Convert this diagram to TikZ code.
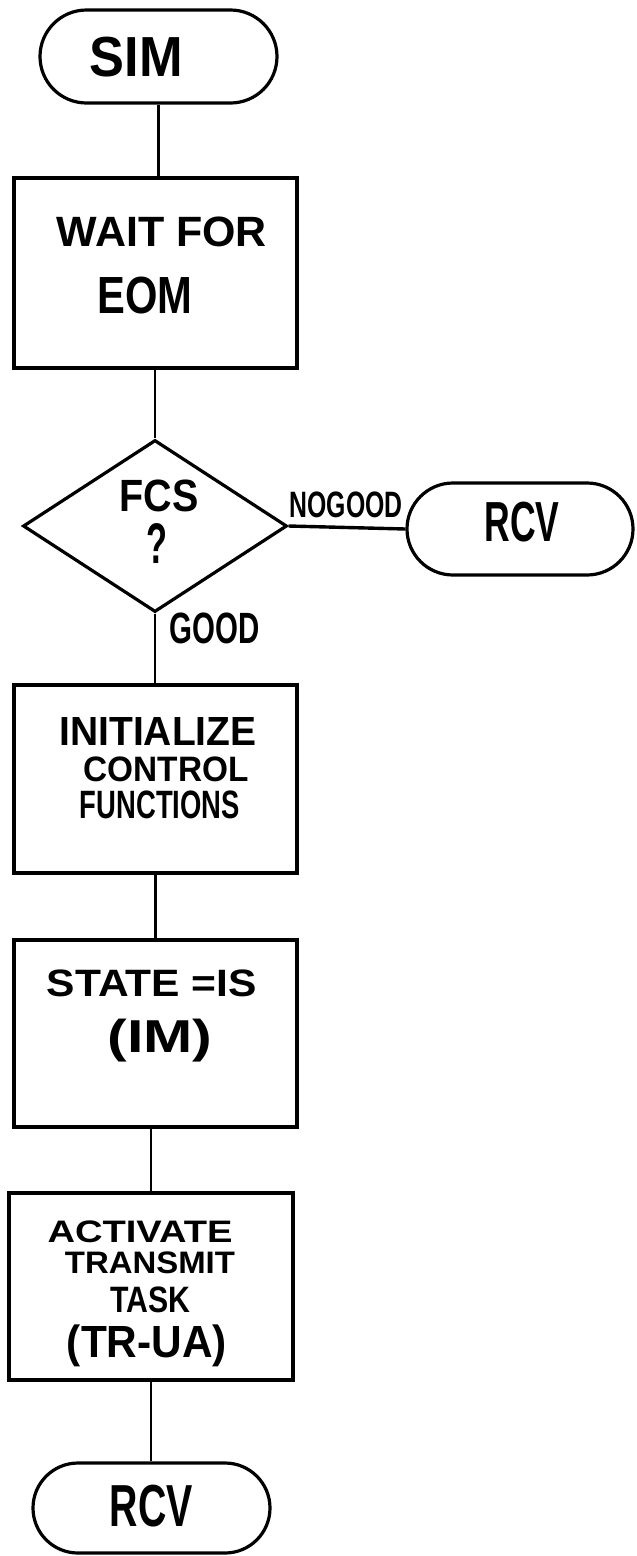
\documentclass[tikz,border=0pt]{standalone}
\usepackage{fontspec}
\usepackage{graphicx}
\setmainfont{Liberation Sans}
\usetikzlibrary{shapes.geometric}
\newcommand\hwtext[3]{\resizebox*{#1pt}{#2pt}{\bfseries #3}}
\tikzset{
  outline/.style={draw=black, line width=3.2pt},
  termbox/.style={outline, rectangle, rounded corners=#1, inner sep=0pt},
  procbox/.style={outline, rectangle, inner sep=0pt},
  decision/.style={outline, diamond, inner sep=0pt},
  conn/.style={draw=black, line width=2.6pt},
  txt/.style={inner sep=0pt, text=black, font=\fontsize{30}{32}\selectfont}
}
\begin{document}
\begin{tikzpicture}[x=1pt,y=-1pt]
\useasboundingbox (0,0) rectangle (637,1556);
\fill[white] (0,0) rectangle (637,1556);

% shapes
\node[termbox=46.5pt, minimum width=237pt, minimum height=93pt] (sim) at (158.5,56.5) {};
\node[procbox, minimum width=283pt, minimum height=190pt] (wait) at (155.5,273) {};
\node[decision, minimum width=264pt, minimum height=172pt] (fcs) at (155,526) {};
\node[termbox=46pt, minimum width=226pt, minimum height=92pt] (rcvA) at (520,529) {};
\node[procbox, minimum width=283pt, minimum height=188pt] (init) at (155.5,779) {};
\node[procbox, minimum width=283pt, minimum height=187pt] (state) at (155.5,1033.5) {};
\node[procbox, minimum width=284pt, minimum height=187pt] (act) at (151,1286.5) {};
\node[termbox=45pt, minimum width=237pt, minimum height=90pt] (rcvB) at (151.5,1508) {};

% texts
\node[txt] (simT) at (136.5,57) {\hwtext{93}{40}{SIM}};
\node[txt] (waitT1) at (162,232) {\hwtext{210}{30}{WAIT FOR}};
\node[txt] (waitT2) at (145,296) {\hwtext{95}{37}{EOM}};
\node[txt] (fcsT1) at (159,496) {\hwtext{79}{32}{FCS}};
\node[txt] (fcsT2) at (157,543) {\hwtext{21}{40}{?}};
\node[txt] (rcvAT) at (522,522) {\hwtext{75}{40}{RCV}};
\node[txt] (nogood) at (346,505) {\hwtext{113}{26}{NOGOOD}};
\node[txt] (good) at (215,628) {\hwtext{90}{31}{GOOD}};
\node[txt] (initT1) at (158,731) {\hwtext{197}{28}{INITIALIZE}};
\node[txt] (initT2) at (166,769) {\hwtext{165}{25}{CONTROL}};
\node[txt] (initT3) at (160,805) {\hwtext{160}{28}{FUNCTIONS}};
\node[txt] (stateT1) at (152,983) {\hwtext{210}{27}{STATE =IS}};
\node[txt] (stateT2) at (160,1041) {\hwtext{105}{43}{(IM)}};
\node[txt] (actT1) at (140,1232) {\hwtext{185}{22}{ACTIVATE}};
\node[txt] (actT2) at (150,1263) {\hwtext{170}{22}{TRANSMIT}};
\node[txt] (actT3) at (150,1300) {\hwtext{80}{26}{TASK}};
\node[txt] (actT4) at (147,1346) {\hwtext{160}{42}{(TR-UA)}};
\node[txt] (rcvBT) at (151.5,1506) {\hwtext{83}{42}{RCV}};

% connectors
\draw[conn] (sim.south) -- (sim.south |- wait.north);
\draw[conn] (fcs.north |- wait.south) -- (fcs.north);
\draw[conn, line width=3.4pt] (fcs.east) -- (rcvA.west);
\draw[conn] (fcs.south) -- (fcs.south |- init.north);
\draw[conn] (init.south) -- (state.north);
\draw[conn] (act.north |- state.south) -- (act.north);
\draw[conn] (act.south) -- (act.south |- rcvB.north);
\end{tikzpicture}
\end{document}
